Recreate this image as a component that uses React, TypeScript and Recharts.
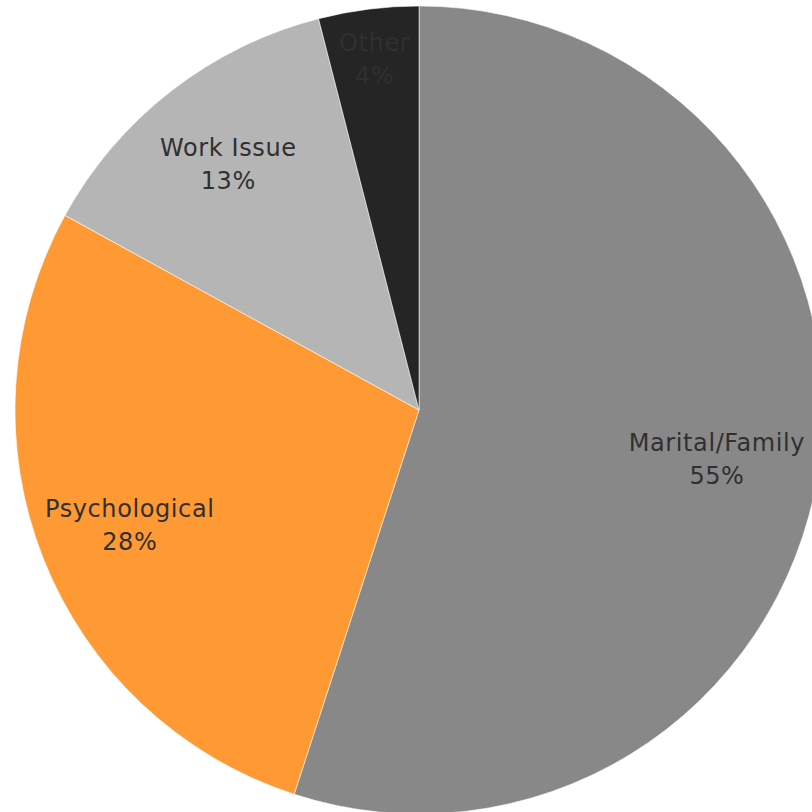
import { Cell, Pie, PieChart } from "recharts";

// reasons, clockwise from 12 o'clock
const REASONS = ["Marital/Family", "Psychological", "Work Issue", "Other"];
const SHARES = [55, 28, 13, 4];
const COLORS = ["#888888", "#FF9933", "#B5B5B5", "#252525"];

const data = REASONS.map((name, i) => ({ name, value: SHARES[i] }));

const W = 812;
const H = 812;
const FONT = 24;
const RAD = Math.PI / 180;

function renderLabel(props: any) {
  const { cx, cy, midAngle, outerRadius, percent, name, value } = props;
  // tiny slices get their label pushed out toward the rim
  const r = outerRadius * (percent < 0.05 ? 0.875 : 0.77);
  let x = cx + r * Math.cos(-midAngle * RAD);
  const y = cy + r * Math.sin(-midAngle * RAD);
  // keep the label inside the canvas (the pie itself runs off the right edge)
  const half = (String(name).length * FONT * 0.53) / 2;
  x = Math.max(half + 4, Math.min(W - half - 6, x));
  return (
    <text
      x={x}
      y={y}
      textAnchor="middle"
      fill="#303030"
      fontFamily="'DejaVu Sans', Verdana, sans-serif"
      fontSize={FONT}
      letterSpacing={0.6}
    >
      <tspan x={x} y={y - 8}>
        {name}
      </tspan>
      <tspan x={x} y={y + 25}>
        {`${value}%`}
      </tspan>
    </text>
  );
}

export default function App() {
  return (
    <div style={{ position: "absolute", left: 0, top: 0, width: W, height: H, background: "#fff" }}>
      <PieChart width={W} height={H} margin={{ top: 0, right: 0, bottom: 0, left: 0 }}>
        <Pie
          data={data}
          dataKey="value"
          nameKey="name"
          cx={419}
          cy={410}
          outerRadius={404}
          startAngle={90}
          endAngle={-270}
          stroke="rgba(255,255,255,0.55)"
          strokeWidth={1}
          label={renderLabel}
          labelLine={false}
          isAnimationActive={false}
        >
          {data.map((d, i) => (
            <Cell key={d.name} fill={COLORS[i]} />
          ))}
        </Pie>
      </PieChart>
    </div>
  );
}
